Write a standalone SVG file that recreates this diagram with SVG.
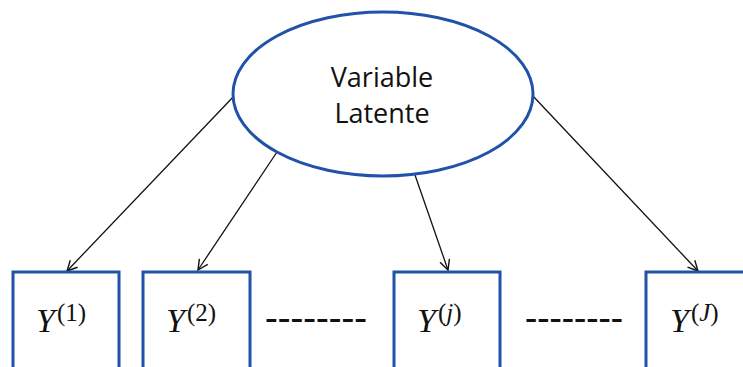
<svg xmlns="http://www.w3.org/2000/svg" width="743" height="367" viewBox="0 0 743 367">
<style>
.node{fill:#fff;stroke:#1f52a8;stroke-width:3}
.lbl{font-family:"Open Sans","Liberation Sans",Arial,sans-serif;font-size:27px;fill:#111;text-anchor:middle}
.y{font-family:"Liberation Serif","Times New Roman",serif;font-style:italic;font-size:34px;fill:#111}
.sup{font-family:"Liberation Serif","Times New Roman",serif;font-size:25px;fill:#111}
.supi{font-style:italic}
.dash{font-family:"Liberation Sans",Arial,sans-serif;font-weight:bold;font-size:26px;fill:#111}
.conn{stroke:#111;stroke-width:1.3;fill:none;marker-end:url(#arr)}
</style>
<defs>
<marker id="arr" viewBox="0 0 12 12" refX="11" refY="6" markerWidth="12" markerHeight="12" markerUnits="userSpaceOnUse" orient="auto">
<path d="M1,1 L11,6 L1,11" fill="none" stroke="#111" stroke-width="1.4"/>
</marker>
</defs>
<rect width="743" height="367" fill="#fff"/>
<g id="connectors">
<line class="conn" x1="235" y1="95" x2="67" y2="271"/>
<line class="conn" x1="277" y1="152" x2="198" y2="270"/>
<line class="conn" x1="415" y1="175" x2="448" y2="270"/>
<line class="conn" x1="532" y1="95" x2="698" y2="271"/>
</g>
<g id="latent">
<ellipse class="node" cx="383" cy="94" rx="150" ry="82"/>
<text class="lbl" x="382" y="87">Variable</text>
<text class="lbl" x="382" y="123">Latente</text>
</g>
<g id="y1">
<rect class="node" x="13" y="272" width="106" height="110"/>
<text x="36" y="332"><tspan class="y">Y</tspan><tspan class="sup" dx="2" dy="-11">(1)</tspan></text>
</g>
<g id="y2">
<rect class="node" x="143" y="272" width="107" height="110"/>
<text x="166" y="332"><tspan class="y">Y</tspan><tspan class="sup" dx="2" dy="-11">(2)</tspan></text>
</g>
<g id="dots1">
<text class="dash" x="265" y="327" textLength="102" lengthAdjust="spacingAndGlyphs">--------</text>
</g>
<g id="yj">
<rect class="node" x="394" y="272" width="106" height="110"/>
<text x="417" y="332"><tspan class="y">Y</tspan><tspan class="sup" dx="2" dy="-11">(</tspan><tspan class="sup supi">j</tspan><tspan class="sup">)</tspan></text>
</g>
<g id="dots2">
<text class="dash" x="525" y="327" textLength="98" lengthAdjust="spacingAndGlyphs">--------</text>
</g>
<g id="yJ">
<rect class="node" x="646" y="272" width="106" height="110"/>
<text x="670" y="332"><tspan class="y">Y</tspan><tspan class="sup" dx="2" dy="-11">(</tspan><tspan class="sup supi">J</tspan><tspan class="sup">)</tspan></text>
</g>
</svg>
